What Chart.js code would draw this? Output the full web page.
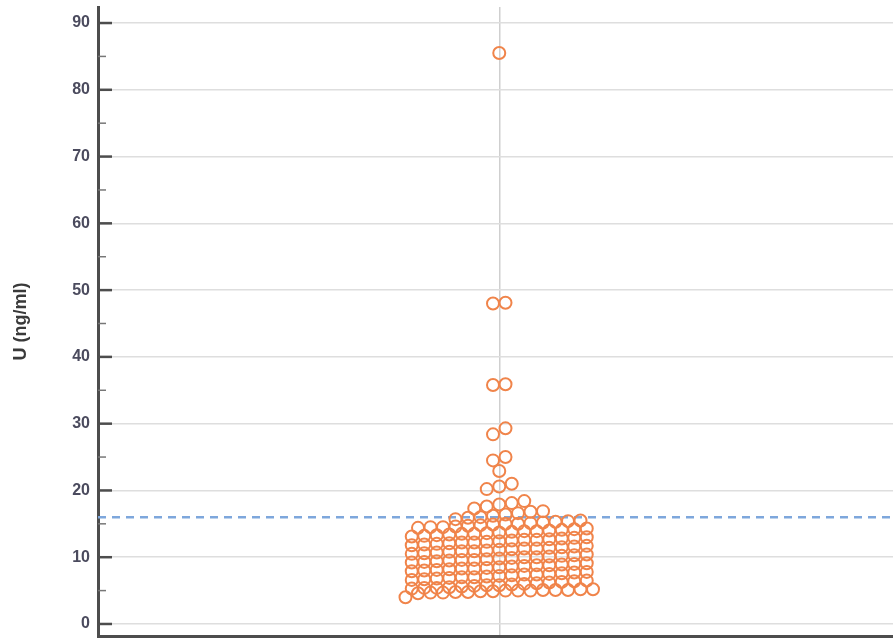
<!DOCTYPE html>
<html>
<head>
<meta charset="utf-8">
<script src="https://cdn.jsdelivr.net/npm/chart.js@4"></script>
<style>
  html, body { margin: 0; padding: 0; background: #fff; overflow: hidden; }
  canvas { display: block; }
</style>
</head>
<body>
<canvas id="myChart" width="893" height="641"></canvas>
<script>
// U (ng/ml) values, bottom to top
var lowBand = [
    4.0, 4.6, 4.7, 4.7, 4.8, 4.8, 4.9, 4.9, 5.0, 5.0, 5.0, 5.1, 5.1, 5.1, 5.2, 5.2,
    5.3, 5.4, 5.4, 5.5, 5.6, 5.7, 5.8, 5.8, 5.9, 6.0, 6.1, 6.2, 6.3, 6.4, 6.5,
    6.6, 6.7, 6.8, 6.9, 7.0, 7.0, 7.1, 7.2, 7.3, 7.4, 7.4, 7.5, 7.6, 7.7, 7.8
];
var midBand = [
    7.9, 8.0, 8.1, 8.2, 8.3, 8.3, 8.4, 8.5, 8.6, 8.7, 8.8, 8.8, 8.9, 9.0, 9.1,
    9.2, 9.3, 9.4, 9.5, 9.6, 9.6, 9.7, 9.8, 9.9, 10.0, 10.0, 10.1, 10.2, 10.3, 10.4,
    10.5, 10.6, 10.7, 10.8, 10.9, 10.9, 11.0, 11.1, 11.2, 11.3, 11.3, 11.4, 11.5, 11.6, 11.7
];
var highBand = [
    11.8, 11.9, 12.0, 12.1, 12.2, 12.2, 12.3, 12.4, 12.5, 12.6, 12.6, 12.7, 12.8, 12.9, 13.0,
    13.1, 13.2, 13.3, 13.4, 13.5, 13.5, 13.6, 13.7, 13.8, 13.9, 13.9, 14.0, 14.1, 14.2, 14.3,
    14.4, 14.5, 14.5, 14.6, 14.7, 14.8, 14.9, 15.0, 15.0, 15.1, 15.2, 15.3, 15.4, 15.5
];
var upperTail = [
    15.7, 15.9, 16.0, 16.2, 16.4, 16.6, 16.8, 16.9,
    17.3, 17.6, 17.9, 18.1, 18.4,
    20.2, 20.6, 21.0,
    22.9,
    24.5, 25.0,
    28.4, 29.3
];
var outliers = [35.8, 35.9, 48.0, 48.1, 85.5];

var cutoff = 16; // dashed reference line
var yTicks = [0, 10, 20, 30, 40, 50, 60, 70, 80, 90];
var yMinor = [5, 15, 25, 35, 45, 55, 65, 75, 85];

// dot plot layout: values grouped into rows, sorted left to right in each row
var rowSpan = 1.25;
var allValues = lowBand.concat(midBand, highBand, upperTail, outliers).sort(function (a, b) { return a - b; });
var rows = [];
allValues.forEach(function (v) {
    var last = rows[rows.length - 1];
    if (last && v < last.start + rowSpan - 1e-9) last.vals.push(v);
    else rows.push({ start: v, vals: [v] });
});
var points = [];
rows.forEach(function (r) {
    var n = r.vals.length;
    r.vals.forEach(function (v, i) {
        points.push({ x: i - (n - 1) / 2, y: v });
    });
});

var axisColor = '#4d4d4d';

var extras = {
    id: 'extras',
    beforeDatasetsDraw: function (chart) {
        var c = chart.ctx, a = chart.chartArea, y = chart.scales.y;
        var py = y.getPixelForValue(cutoff);
        c.save();
        c.strokeStyle = '#7ea7dc';
        c.lineWidth = 2.5;
        c.setLineDash([8, 6]);
        c.beginPath();
        c.moveTo(a.left, py);
        c.lineTo(a.right, py);
        c.stroke();
        c.restore();
    },
    afterDraw: function (chart) {
        var c = chart.ctx, a = chart.chartArea, y = chart.scales.y;
        c.save();
        c.strokeStyle = axisColor;
        c.lineWidth = 2.5;
        yTicks.forEach(function (t) {
            var p = y.getPixelForValue(t);
            c.beginPath(); c.moveTo(a.left, p); c.lineTo(a.left + 14, p); c.stroke();
        });
        c.strokeStyle = '#777';
        c.lineWidth = 1.5;
        yMinor.forEach(function (t) {
            var p = y.getPixelForValue(t);
            c.beginPath(); c.moveTo(a.left, p); c.lineTo(a.left + 8, p); c.stroke();
        });
        c.restore();
    }
};

var ctx = document.getElementById('myChart');
var myChart = new Chart(ctx, {
    type: 'scatter',
    data: {
        datasets: [{
            label: 'U (ng/ml)',
            data: points,
            pointRadius: 6,
            pointBorderWidth: 2,
            pointBorderColor: '#f0844a',
            pointBackgroundColor: 'rgba(0,0,0,0)'
        }]
    },
    options: {
        responsive: false,
        animation: false,
        layout: { autoPadding: false, padding: { top: 7, right: 0, bottom: 5, left: 0 } },
        plugins: { legend: { display: false }, tooltip: { enabled: false } },
        scales: {
            x: {
                type: 'linear',
                min: -32.1,
                max: 31.5,
                afterBuildTicks: function (s) { s.ticks = [{ value: 0 }]; },
                afterFit: function (s) { s.height = 0; s.paddingLeft = 0; s.paddingRight = 0; },
                ticks: { display: false },
                grid: { color: '#cfcfcf', lineWidth: 1.5, drawTicks: false },
                border: { color: axisColor, width: 3 }
            },
            y: {
                min: -1.8,
                max: 92.4,
                afterBuildTicks: function (s) { s.ticks = yTicks.map(function (v) { return { value: v }; }); },
                afterFit: function (s) { s.width = 98; s.paddingTop = 0; s.paddingBottom = 0; },
                ticks: {
                    padding: 8,
                    color: '#4b4b5e',
                    font: { family: 'Liberation Sans', size: 16, weight: 'bold' }
                },
                grid: { color: '#dedede', lineWidth: 1.5, drawTicks: false },
                border: { color: axisColor, width: 3 },
                title: {
                    display: true,
                    text: 'U (ng/ml)',
                    color: '#3a3a3a',
                    padding: { top: 10, bottom: 0 },
                    font: { family: 'Liberation Sans', size: 18, weight: 'bold' }
                }
            }
        }
    },
    plugins: [extras]
});
</script>
</body>
</html>
